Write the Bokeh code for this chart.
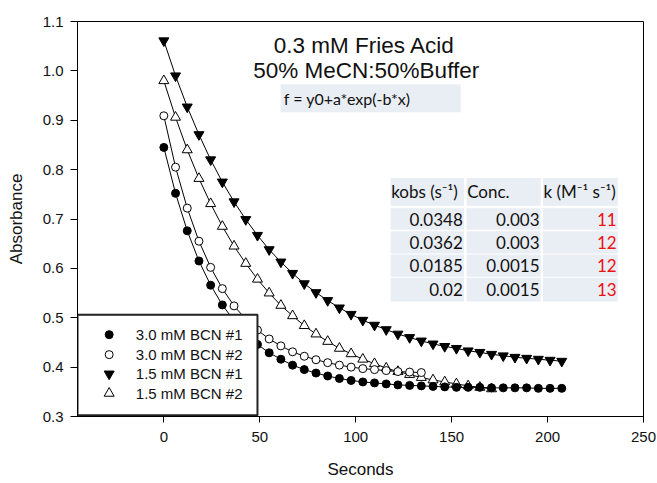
from bokeh.plotting import figure
from bokeh.models import FixedTicker, Label, Range1d, NumeralTickFormatter
from bokeh.embed import file_html
from bokeh.resources import INLINE

# ---------------- data ----------------
t_all = [0.0, 6.1, 12.2, 18.3, 24.4, 30.5, 36.6, 42.7, 48.8, 54.9, 61.0, 67.1,
         73.2, 79.3, 85.4, 91.5, 97.6, 103.7, 109.8, 115.9, 122.0, 128.1, 134.2,
         140.3, 146.4, 152.5, 158.6, 164.7, 170.8, 176.9, 183.0, 189.1, 195.2,
         201.3, 207.4]

bcn30_1 = [0.845, 0.752, 0.676, 0.615, 0.566, 0.526, 0.494, 0.467, 0.446, 0.429,
           0.416, 0.404, 0.395, 0.388, 0.382, 0.377, 0.373, 0.370, 0.368, 0.366,
           0.364, 0.363, 0.362, 0.361, 0.360, 0.359, 0.359, 0.359, 0.358, 0.358,
           0.358, 0.358, 0.357, 0.357, 0.357]
bcn30_2 = [0.909, 0.805, 0.722, 0.655, 0.602, 0.559, 0.524, 0.497, 0.475, 0.457,
           0.443, 0.431, 0.422, 0.415, 0.409, 0.404, 0.400, 0.397, 0.395, 0.393,
           0.391, 0.390, 0.389]
bcn15_1 = [1.061, 0.990, 0.927, 0.871, 0.820, 0.775, 0.735, 0.699, 0.667, 0.638,
           0.613, 0.590, 0.569, 0.551, 0.535, 0.520, 0.507, 0.495, 0.485, 0.476,
           0.467, 0.460, 0.453, 0.447, 0.442, 0.438, 0.433, 0.430, 0.426, 0.423,
           0.420, 0.418, 0.416, 0.414, 0.412]
bcn15_2 = [0.980, 0.906, 0.840, 0.782, 0.731, 0.685, 0.645, 0.610, 0.578, 0.550,
           0.525, 0.504, 0.484, 0.467, 0.452, 0.438, 0.427, 0.416, 0.407, 0.398,
           0.391, 0.385, 0.379, 0.374, 0.370, 0.366, 0.362, 0.359, 0.356]

series_names = ["3.0 mM BCN #1", "3.0 mM BCN #2", "1.5 mM BCN #1", "1.5 mM BCN #2"]

table_header = ["kobs (s\u207b\u00b9)", "Conc.", "k (M\u207b\u00b9 s\u207b\u00b9)"]
kobs = ["0.0348", "0.0362", "0.0185", "0.02"]
conc = ["0.003", "0.003", "0.0015", "0.0015"]
k2 = ["11", "12", "12", "13"]

x_ticks = [0, 50, 100, 150, 200, 250]
y_ticks = [0.3, 0.4, 0.5, 0.6, 0.7, 0.8, 0.9, 1.0, 1.1]

# ---------------- figure ----------------
SANS = "Liberation Sans"
CAL = "Lato"

p = figure(width=657, height=483, output_backend="svg", toolbar_location=None,
           x_range=Range1d(-45, 250), y_range=Range1d(0.3, 1.1),
           min_border_left=77, min_border_right=14, min_border_top=21, min_border_bottom=67)
p.background_fill_color = "white"
p.border_fill_color = "white"
p.outline_line_color = "black"
p.outline_line_width = 1
p.xgrid.visible = False
p.ygrid.visible = False

for ax in (p.xaxis[0], p.yaxis[0]):
    ax.axis_line_color = "black"
    ax.major_tick_line_color = "black"
    ax.minor_tick_line_color = None
    ax.major_tick_in = 0
    ax.major_label_text_font = SANS
    ax.major_label_text_font_size = "15px"
    ax.major_label_text_color = "#111111"
    ax.axis_label_text_font = SANS
    ax.axis_label_text_font_size = "17px"
    ax.axis_label_text_font_style = "normal"
    ax.axis_label_text_color = "#111111"

p.xaxis.ticker = FixedTicker(ticks=x_ticks)
p.yaxis.ticker = FixedTicker(ticks=y_ticks)
p.yaxis.formatter = NumeralTickFormatter(format="0.0")
p.xaxis.major_tick_out = 6
p.yaxis.major_tick_out = 7
p.xaxis.major_label_standoff = 9
p.yaxis.major_label_standoff = 7
p.xaxis.axis_label = "Seconds"
p.yaxis.axis_label = "Absorbance"
p.xaxis.axis_label_standoff = 15
p.yaxis.axis_label_standoff = 14

# ---------------- data: fit lines and markers ----------------
t30_2 = t_all[:len(bcn30_2)]
t15_2 = t_all[:len(bcn15_2)]

for tx, ys in ((t_all, bcn30_1), (t30_2, bcn30_2), (t_all, bcn15_1), (t15_2, bcn15_2)):
    p.line(tx, ys, line_color="black", line_width=1)

p.scatter(t_all, bcn15_1, marker="inverted_triangle", size=10, fill_color="black", line_color="black")
p.scatter(t15_2, bcn15_2, marker="triangle", size=10, fill_color="white", line_color="black", line_width=1)
p.scatter(t30_2, bcn30_2, marker="circle", size=8, fill_color="white", line_color="black", line_width=1)
p.scatter(t_all, bcn30_1, marker="circle", size=8, fill_color="black", line_color="black")

# ---------------- titles ----------------
p.add_layout(Label(x=104.5, y=1.051, text="0.3 mM Fries Acid", text_font=SANS, text_font_size="22.5px",
                   text_align="center", text_baseline="middle", text_color="#111111"))
p.add_layout(Label(x=105.5, y=1.000, text="50% MeCN:50%Buffer", text_font=SANS, text_font_size="22.5px",
                   text_align="center", text_baseline="middle", text_color="#111111"))

# formula box
CELL = "#e9edf4"
p.quad(left=[60.9], right=[154.7], bottom=[0.916], top=[0.973], fill_color=CELL, line_color=None)
p.add_layout(Label(x=62.5, y=0.9445, text="f = y0+a*exp(-b*x)", text_font=CAL, text_font_size="16px",
                   text_align="left", text_baseline="middle", text_color="#111111"))

# ---------------- table ----------------
col_l = [118.2, 157.8, 197.6]
col_r = [156.4, 196.4, 236.6]
row_t = [0.783, 0.722, 0.675, 0.628, 0.581]
row_b = [0.727, 0.678, 0.630, 0.583, 0.533]
ql, qr, qt, qb = [], [], [], []
for ri in range(5):
    for ci in range(3):
        ql.append(col_l[ci]); qr.append(col_r[ci]); qt.append(row_t[ri]); qb.append(row_b[ri])
p.quad(left=ql, right=qr, top=qt, bottom=qb, fill_color=CELL, line_color=None)

for ci, h in enumerate(table_header):
    p.add_layout(Label(x=col_l[ci] + 0.3, y=(row_t[0] + row_b[0]) / 2, text=h, text_font=CAL,
                       text_font_size="17px", text_align="left", text_baseline="middle",
                       text_color="#111111"))
for ri in range(4):
    yc = (row_t[ri + 1] + row_b[ri + 1]) / 2
    for ci, (vals, colr) in enumerate(((kobs, "#111111"), (conc, "#111111"), (k2, "#ee1111"))):
        p.add_layout(Label(x=col_r[ci] - 0.6, y=yc, text=vals[ri], text_font=CAL,
                           text_font_size="17px", text_align="right", text_baseline="middle",
                           text_color=colr))

# ---------------- legend ----------------
p.quad(left=[-45], right=[48.8], bottom=[0.3024], top=[0.506], fill_color="white",
       line_color="#222222", line_width=2)
leg_y = [0.4658, 0.4253, 0.3862, 0.3469]
leg_mx = -28.5
p.scatter([leg_mx], [leg_y[0]], marker="circle", size=8, fill_color="black", line_color="black")
p.scatter([leg_mx], [leg_y[1]], marker="circle", size=8, fill_color="white", line_color="black")
p.scatter([leg_mx], [leg_y[2]], marker="inverted_triangle", size=10, fill_color="black", line_color="black")
p.scatter([leg_mx], [leg_y[3]], marker="triangle", size=10, fill_color="white", line_color="black")
for name, yy in zip(series_names, leg_y):
    p.add_layout(Label(x=-14.6, y=yy, text=name, text_font=SANS, text_font_size="15px",
                       text_align="left", text_baseline="middle", text_color="#111111"))

open("out.html", "w").write(file_html(p, INLINE))
